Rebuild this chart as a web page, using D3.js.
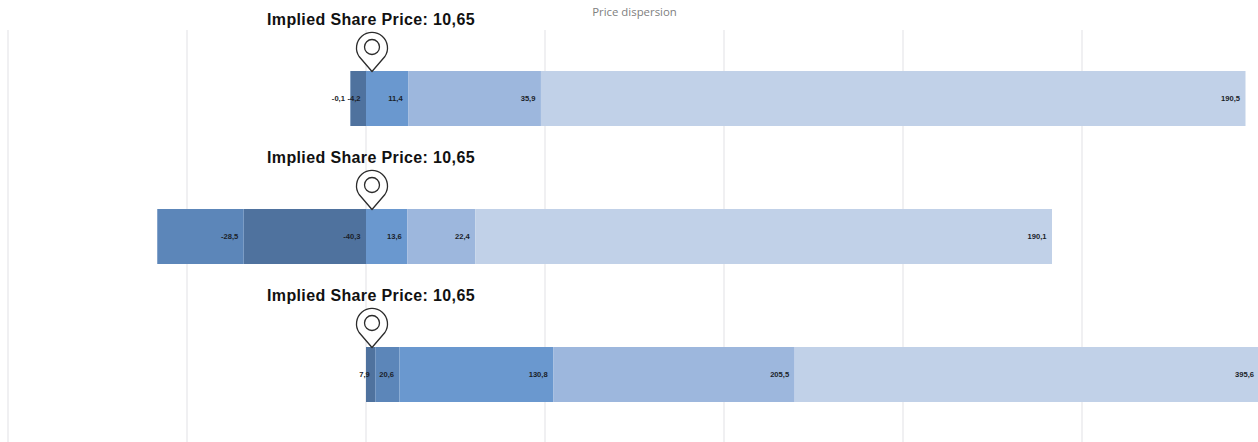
<!DOCTYPE html>
<html>
<head>
<meta charset="utf-8">
<script src="https://cdn.jsdelivr.net/npm/d3@7/dist/d3.min.js"></script>
<style>
  html, body { margin: 0; padding: 0; background: #fff; overflow: hidden; }
  svg { display: block; }
</style>
</head>
<body>
<svg id="chart" width="1258" height="442"></svg>
<script>
// Price ranges per scenario, one array per stacked band
const scenarios = ["A", "B", "C"];
const bandDeep = [-4.2, -40.3, 7.9];
const bandSteel = [-0.1, -28.5, 20.6];
const bandMid = [11.4, 13.6, 130.8];
const bandSoft = [35.9, 22.4, 205.5];
const bandPale = [190.5, 190.1, 395.6];
const bandKeys = ["deep", "steel", "mid", "soft", "pale"];
const impliedPrice = "10,65";
const chartTitle = "Price dispersion";
const gridSteps = [-2, -1, 0, 1, 2, 3, 4];

// Every row has its own horizontal scale; the zero line is shared
const zeroX = 366;
const rowRightEdge = [1245.5, 1052, 1259.5];
const gridSpacing = 179;
const pinOffset = 6;

const bandColor = d3.scaleOrdinal()
  .domain(bandKeys)
  .range(["#4f729e", "#5c86b9", "#6a98cf", "#9db7dd", "#c1d1e8"]);

const rows = scenarios.map((name, i) => ({
  name,
  deep: bandDeep[i],
  steel: bandSteel[i],
  mid: bandMid[i],
  soft: bandSoft[i],
  pale: bandPale[i]
}));

const stacked = d3.stack()
  .keys(bandKeys)
  .offset(d3.stackOffsetDiverging)(rows);

const rowMax = rows.map((_, i) => d3.max(stacked, s => s[i][1]));
const xScales = rows.map((_, i) =>
  d3.scaleLinear().domain([0, rowMax[i]]).range([zeroX, rowRightEdge[i]]));

const y = d3.scaleBand()
  .domain(scenarios)
  .range([71, 402])
  .paddingInner(83 / 138)
  .paddingOuter(0);

const gridX = d3.scaleLinear()
  .domain([0, 1])
  .range([zeroX, zeroX + gridSpacing]);

const svg = d3.select("#chart");

svg.append("g")
  .selectAll("line")
  .data(gridSteps)
  .join("line")
  .attr("x1", d => gridX(d))
  .attr("x2", d => gridX(d))
  .attr("y1", 30)
  .attr("y2", 442)
  .attr("stroke", "#f0f0f2")
  .attr("stroke-width", 2);

svg.append("text")
  .attr("x", 634.5)
  .attr("y", 16)
  .attr("text-anchor", "middle")
  .attr("font-family", "'Open Sans', sans-serif")
  .attr("font-size", 11.4)
  .attr("fill", "#808080")
  .text(chartTitle);

// Stacked segments
const segments = [];
stacked.forEach(series => {
  series.forEach((pt, i) => {
    segments.push({
      key: series.key,
      row: i,
      value: rows[i][series.key],
      x0: xScales[i](pt[0]),
      x1: xScales[i](pt[1])
    });
  });
});

svg.append("g")
  .selectAll("rect")
  .data(segments)
  .join("rect")
  .attr("x", d => d.x0)
  .attr("y", d => y(scenarios[d.row]))
  .attr("width", d => Math.max(0, d.x1 - d.x0))
  .attr("height", y.bandwidth())
  .attr("fill", d => bandColor(d.key));

const fmt = v => d3.format(".1f")(v).replace("−", "-").replace(".", ",");

svg.append("g")
  .selectAll("text")
  .data(segments)
  .join("text")
  .attr("x", d => d.x1 - 5.5)
  .attr("y", d => y(scenarios[d.row]) + y.bandwidth() / 2 + 2.5)
  .attr("text-anchor", "end")
  .attr("font-family", "'Liberation Sans', Arial, sans-serif")
  .attr("font-size", 7.6)
  .attr("font-weight", "bold")
  .attr("fill", "#1b1f2a")
  .text(d => fmt(d.value));

// Location pin and caption above each bar
const pins = svg.append("g")
  .selectAll("g")
  .data(scenarios)
  .join("g")
  .attr("transform", d => `translate(${zeroX + pinOffset},${y(d) + 0.5})`);

pins.append("path")
  .attr("d", () => {
    const r = 15.5, cy = -24.5, dy = 10.5;
    const dx = Math.sqrt(r * r - dy * dy);
    return `M0,0 L${-dx - 1.5},${cy + dy - 1} A${r},${r} 0 1 1 ${dx + 1.5},${cy + dy - 1} Z`;
  })
  .attr("fill", "#fff")
  .attr("stroke", "#2b2b2b")
  .attr("stroke-width", 1.3)
  .attr("stroke-linejoin", "round");

pins.append("circle")
  .attr("cy", -24.5)
  .attr("r", 7.5)
  .attr("fill", "#fff")
  .attr("stroke", "#2b2b2b")
  .attr("stroke-width", 1.3);

svg.append("g")
  .selectAll("text")
  .data(scenarios)
  .join("text")
  .attr("x", 267)
  .attr("y", d => y(d) - 46.5)
  .attr("font-family", "'Liberation Sans', Arial, sans-serif")
  .attr("font-size", 16)
  .attr("font-weight", "bold")
  .attr("letter-spacing", 0.37)
  .attr("fill", "#111")
  .text("Implied Share Price: " + impliedPrice);
</script>
</body>
</html>
